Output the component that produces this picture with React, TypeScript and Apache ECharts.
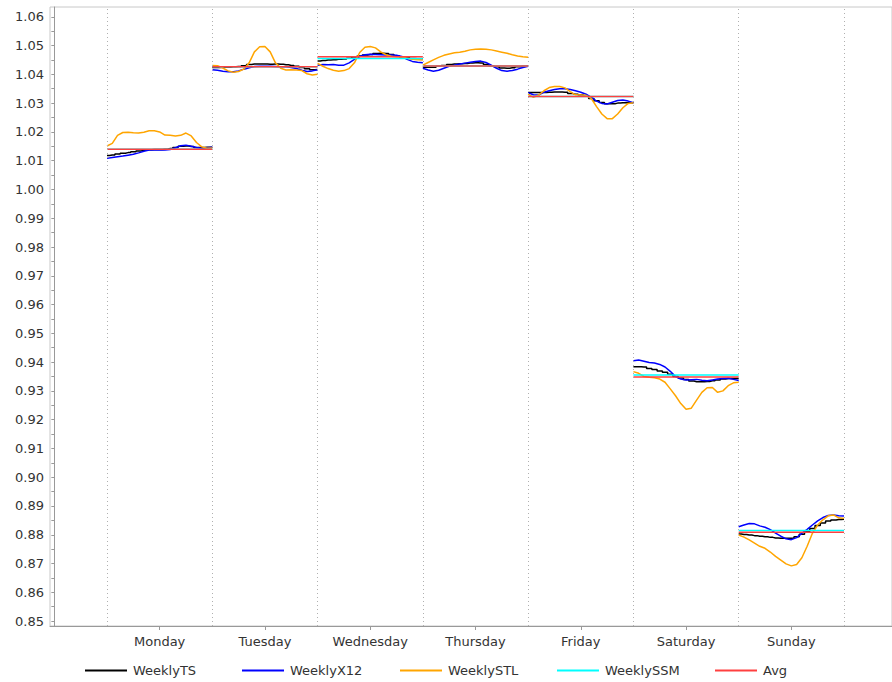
import React, { useEffect, useRef } from "react";
import * as echarts from "echarts";

const days = ["Monday", "Tuesday", "Wednesday", "Thursday", "Friday", "Saturday", "Sunday"];
const seriesNames = ["WeeklyTS", "WeeklyX12", "WeeklySTL", "WeeklySSM", "Avg"];
const seriesColors = ["#000000", "#0000ff", "#ffa500", "#00ffff", "#ff4040"];
const yTickLabels = [0.85, 0.86, 0.87, 0.88, 0.89, 0.9, 0.91, 0.92, 0.93, 0.94, 0.95, 0.96, 0.97, 0.98, 0.99, 1.0, 1.01, 1.02, 1.03, 1.04, 1.05, 1.06];

const weeklyTS: number[][] = [
  [1.0118, 1.012, 1.0123, 1.0126, 1.0128, 1.0131, 1.0134, 1.0136, 1.0138, 1.0139, 1.0139, 1.014, 1.0142, 1.0146, 1.015, 1.0151, 1.0149, 1.0146, 1.0146, 1.0147, 1.0147],
  [1.0424, 1.0424, 1.0425, 1.0425, 1.0426, 1.0427, 1.043, 1.0434, 1.0436, 1.0436, 1.0436, 1.0435, 1.0436, 1.0435, 1.0433, 1.0431, 1.0428, 1.0424, 1.0419, 1.0416, 1.0417],
  [1.0446, 1.0448, 1.045, 1.0451, 1.0452, 1.0453, 1.0456, 1.046, 1.0464, 1.0467, 1.0469, 1.0472, 1.0473, 1.0472, 1.0469, 1.0465, 1.0461, 1.0458, 1.0455, 1.0454, 1.0454],
  [1.0425, 1.0425, 1.0425, 1.0428, 1.0431, 1.0434, 1.0436, 1.0437, 1.0438, 1.0439, 1.044, 1.0439, 1.0434, 1.043, 1.0426, 1.0422, 1.0421, 1.0423, 1.0426, 1.0428, 1.0429],
  [1.0337, 1.0337, 1.0337, 1.0337, 1.0338, 1.0339, 1.0339, 1.0338, 1.0333, 1.0331, 1.0328, 1.0325, 1.0316, 1.0308, 1.0302, 1.0298, 1.0298, 1.03, 1.0301, 1.0301, 1.0301],
  [0.9384, 0.9384, 0.9383, 0.9378, 0.9374, 0.9369, 0.9365, 0.9358, 0.935, 0.9345, 0.934, 0.9334, 0.9332, 0.9332, 0.9333, 0.9335, 0.9338, 0.9341, 0.9343, 0.9343, 0.9343],
  [0.8803, 0.8801, 0.8799, 0.8797, 0.8795, 0.8793, 0.8791, 0.8789, 0.8788, 0.8788, 0.8788, 0.8793, 0.8802, 0.8811, 0.8822, 0.8832, 0.8841, 0.8848, 0.8851, 0.8853, 0.8854],
];

const weeklyX12: number[][] = [
  [1.0108, 1.0111, 1.0114, 1.0116, 1.0119, 1.0122, 1.0127, 1.0133, 1.0137, 1.0137, 1.0137, 1.0137, 1.0139, 1.0145, 1.0152, 1.0154, 1.015, 1.0146, 1.0143, 1.0145, 1.0147],
  [1.0416, 1.0414, 1.0411, 1.0409, 1.0409, 1.0412, 1.0418, 1.0423, 1.0427, 1.0428, 1.0428, 1.0428, 1.0427, 1.0426, 1.0426, 1.0424, 1.042, 1.0414, 1.041, 1.0412, 1.0416],
  [1.0432, 1.0434, 1.0433, 1.0434, 1.0432, 1.0432, 1.044, 1.0452, 1.0462, 1.0468, 1.047, 1.0469, 1.0468, 1.0467, 1.0467, 1.0466, 1.0462, 1.0452, 1.0445, 1.0442, 1.044],
  [1.0421, 1.0415, 1.0411, 1.0414, 1.0421, 1.0428, 1.0432, 1.0436, 1.0439, 1.0442, 1.0445, 1.0446, 1.0441, 1.0432, 1.0421, 1.0413, 1.0411, 1.0413, 1.0418, 1.0424, 1.0428],
  [1.0336, 1.0329, 1.0328, 1.0338, 1.0343, 1.0347, 1.035, 1.035, 1.0347, 1.0343, 1.0338, 1.0331, 1.032, 1.0307, 1.0299, 1.0297, 1.0303, 1.0309, 1.0311, 1.0307, 1.0301],
  [0.9405, 0.9407, 0.9403, 0.9399, 0.9397, 0.9392, 0.9383, 0.9368, 0.935, 0.9341, 0.9338, 0.9339, 0.934, 0.9337, 0.9335, 0.9338, 0.9341, 0.9343, 0.9344, 0.934, 0.9336],
  [0.8828, 0.8834, 0.8839, 0.8838, 0.8831, 0.8826, 0.8818, 0.8806, 0.8795, 0.8786, 0.8783, 0.879, 0.8805, 0.8819, 0.8834, 0.8848, 0.886, 0.8867, 0.8869, 0.8866, 0.8865],
];

const weeklySTL: number[][] = [
  [1.0151, 1.016, 1.0188, 1.0198, 1.0199, 1.0197, 1.0196, 1.0199, 1.0204, 1.0204, 1.02, 1.0189, 1.0188, 1.0186, 1.0188, 1.0196, 1.0186, 1.0163, 1.0148, 1.0143, 1.0144],
  [1.0431, 1.043, 1.0422, 1.0412, 1.0407, 1.041, 1.0418, 1.044, 1.0478, 1.0496, 1.0497, 1.0478, 1.044, 1.0421, 1.0415, 1.0416, 1.0415, 1.0413, 1.0402, 1.0398, 1.04],
  [1.0438, 1.0428, 1.042, 1.0414, 1.0411, 1.0413, 1.042, 1.044, 1.0476, 1.0494, 1.0497, 1.0492, 1.0478, 1.0468, 1.0463, 1.0461, 1.046, 1.0456, 1.0452, 1.0451, 1.045],
  [1.0432, 1.0441, 1.045, 1.0459, 1.0466, 1.0471, 1.0475, 1.0477, 1.048, 1.0485, 1.0487, 1.0488, 1.0487, 1.0485, 1.0481, 1.0477, 1.0473, 1.0468, 1.0464, 1.0461, 1.0459],
  [1.0331, 1.032, 1.0328, 1.0343, 1.0354, 1.0358, 1.0358, 1.0353, 1.034, 1.0329, 1.0328, 1.0327, 1.0316, 1.0288, 1.0262, 1.0246, 1.0246, 1.0262, 1.0284, 1.0299, 1.0301],
  [0.9367, 0.9361, 0.935, 0.9347, 0.9346, 0.9341, 0.933, 0.9307, 0.9283, 0.9256, 0.9236, 0.924, 0.9268, 0.9295, 0.9311, 0.9312, 0.9295, 0.93, 0.9318, 0.9328, 0.933],
  [0.8799, 0.8792, 0.8782, 0.8771, 0.876, 0.8753, 0.874, 0.8725, 0.8712, 0.8699, 0.8692, 0.8697, 0.872, 0.876, 0.8805, 0.8834, 0.8852, 0.8866, 0.8869, 0.8859, 0.8857],
];

const weeklySSM: number[] = [1.014, 1.0426, 1.0455, 1.0429, 1.0323, 0.9355, 0.8815];
const avg: number[] = [1.014, 1.0426, 1.0461, 1.0429, 1.0323, 0.9348, 0.8809];

const FONT = "DejaVu Sans";

function buildCurve(perDay: number[][]) {
  const out: any[] = [];
  perDay.forEach((vals, d) => {
    const n = vals.length;
    vals.forEach((v, j) => out.push([d + 0.5 + j / (n - 1), v]));
    out.push([d + 1.5, "-"]);
  });
  return out;
}

function buildFlat(perDay: number[]) {
  const out: any[] = [];
  perDay.forEach((v, d) => {
    out.push([d + 0.5, v]);
    out.push([d + 1.5, v]);
    out.push([d + 1.5, "-"]);
  });
  return out;
}

export default function App() {
  const ref = useRef<HTMLDivElement>(null);
  useEffect(() => {
    if (!ref.current) return;
    const chart = echarts.init(ref.current, null, { renderer: "svg" });
    const dayCenters = days.map((_, i) => i + 1);
    const boundaries = days.map((_, i) => i + 0.5).concat([days.length + 0.5]);
    const yMinor: number[] = [];
    for (let i = 0; i < yTickLabels.length - 1; i++) {
      yMinor.push(Math.round(((yTickLabels[i] + yTickLabels[i + 1]) / 2) * 10000) / 10000);
    }
    const yTicksAll = yTickLabels.concat(yMinor).sort((a, b) => a - b);
    const legendLefts = [85, 242, 400, 557, 715];
    const dataSets = [
      buildCurve(weeklyTS),
      buildCurve(weeklyX12),
      buildCurve(weeklySTL),
      buildFlat(weeklySSM),
      buildFlat(avg),
    ];
    const series: any[] = seriesNames.map((name, i) => ({
      name,
      type: "line",
      data: dataSets[i],
      step: i === 0 ? "middle" : false,
      showSymbol: false,
      symbol: "none",
      connectNulls: false,
      color: seriesColors[i],
      lineStyle: { color: seriesColors[i], width: 1.5 },
      z: 3,
      silent: true,
    }));
    series.unshift({
      name: "__grid",
      type: "line",
      data: [],
      silent: true,
      z: 1,
      markLine: {
        silent: true,
        symbol: ["none", "none"],
        label: { show: false },
        lineStyle: { color: "#b0b0b0", type: [1, 3], width: 1 },
        data: boundaries.map((b) => ({ xAxis: b })),
      },
    });
    chart.setOption({
      animation: false,
      backgroundColor: "#ffffff",
      grid: {
        left: 50,
        top: 7,
        right: 0,
        bottom: 56,
        containLabel: false,
        show: true,
        borderColor: "#c8c8c8",
        borderWidth: 1,
        backgroundColor: "#ffffff",
      },
      xAxis: {
        type: "value",
        min: -0.0414,
        max: 7.956,
        axisLine: { show: true, lineStyle: { color: "#999999", width: 1 } },
        axisTick: { show: true, customValues: dayCenters, length: 4, lineStyle: { color: "#999999" } },
        axisLabel: {
          show: true,
          customValues: dayCenters,
          formatter: (v: number) => days[Math.round(v) - 1] || "",
          fontFamily: FONT,
          fontSize: 13,
          color: "#333333",
          margin: 9,
        },
        splitLine: { show: false },
      },
      yAxis: {
        type: "value",
        min: 0.8483,
        max: 1.0634,
        axisLine: { show: true, lineStyle: { color: "#999999", width: 1 } },
        axisTick: { show: true, customValues: yTicksAll, length: 3, lineStyle: { color: "#999999" } },
        axisLabel: {
          show: true,
          customValues: yTickLabels,
          formatter: (v: number) => v.toFixed(2),
          fontFamily: FONT,
          fontSize: 13,
          color: "#333333",
          margin: 6,
        },
        splitLine: { show: false },
      },
      legend: seriesNames.map((name, i) => ({
        data: [name],
        left: legendLefts[i],
        top: 664,
        padding: 0,
        icon: "rect",
        itemWidth: 42,
        itemHeight: 2,
        itemGap: 0,
        selectedMode: false,
        textStyle: { fontFamily: FONT, fontSize: 13, color: "#333333", padding: [0, 0, 0, 1] },
      })),
      series,
    });
    return () => chart.dispose();
  }, []);
  return (
    <div
      ref={ref}
      style={{ position: "absolute", left: 0, top: 0, width: 892, height: 682, background: "#fff" }}
    />
  );
}
